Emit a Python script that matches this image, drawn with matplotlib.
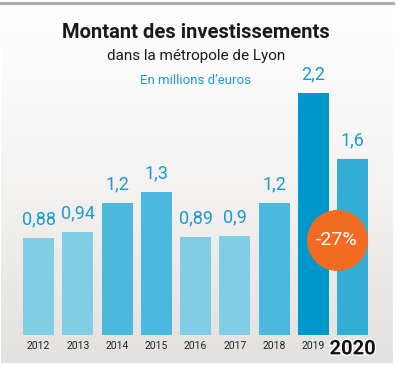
import matplotlib.pyplot as plt
import matplotlib.patheffects as pe
import numpy as np

years = ['2012', '2013', '2014', '2015', '2016', '2017', '2018', '2019', '2020']
values = [0.88, 0.94, 1.2, 1.3, 0.89, 0.9, 1.2, 2.2, 1.6]
labels = ['0,88', '0,94', '1,2', '1,3', '0,89', '0,9', '1,2', '2,2', '1,6']
bar_colors = ['#80cde6', '#80cde6', '#4bb9dd', '#4bb9dd', '#80cde6',
              '#80cde6', '#4bb9dd', '#0098cb', '#33acd6']
change_label = '-27%'

W, H = 397, 368
fig = plt.figure(figsize=(W / 100, H / 100), dpi=100)
fig.patch.set_facecolor('white')

# background panel with soft vertical gradient
bg = fig.add_axes([1 / W, (H - 363) / H, 392 / W, 359 / H])
grad = np.linspace(0, 1, 256).reshape(-1, 1)
bg.imshow(grad, aspect='auto', cmap=plt.matplotlib.colors.LinearSegmentedColormap.from_list(
    'bgc', ['#ffffff', '#f4f3f2', '#e3e1df']), extent=[0, 1, 0, 1], origin='upper')
bg.set_axis_off()

# top grey rule
fig.add_artist(plt.Line2D([1 / W, 393 / W], [(H - 3) / H] * 2, color='#b3aca5', lw=2.2))

fig.text(196 / W, 1 - 33 / H, 'Montant des investissements', ha='center', va='center',
         fontsize=14.5, fontweight='bold', family='Roboto', color='#1a1a1a')
fig.text(196 / W, 1 - 56 / H, 'dans la métropole de Lyon', ha='center', va='center',
         fontsize=11, family='Roboto', color='#1a1a1a')
fig.text(195 / W, 1 - 80 / H, 'En millions d\u2019euros', ha='center', va='center',
         fontsize=9.5, family='Roboto', color='#1a9ad0')

ax = fig.add_axes([19 / W, 33 / H, 353.25 / W, 319 / H])
ax.patch.set_alpha(0)
x = np.arange(len(years))
ax.bar(x, values, width=0.79, color=bar_colors, zorder=2)
ax.set_xlim(-0.5, len(years) - 0.5)
ax.set_ylim(0, 2.9)
ax.set_axis_off()

for xi, v, lab in zip(x, values, labels):
    ax.annotate(lab, (xi, v), xytext=(0, 7), textcoords='offset points',
                ha='center', va='bottom', fontsize=13, family='Roboto', color='#1a9ad0')

for xi, yr in zip(x[:-1], years[:-1]):
    ax.annotate(yr, (xi, 0), xytext=(0, -8), textcoords='offset points',
                ha='center', va='center', fontsize=7.5, family='Roboto', color='#222222')
ax.annotate(years[-1], (x[-1], 0), xytext=(0, -10), textcoords='offset points',
            ha='center', va='center', fontsize=14.5, fontweight='bold', family='Roboto',
            color='#111111', path_effects=[pe.withStroke(linewidth=2, foreground='white')])

# orange badge between 2019 and 2020
ax.scatter([7.6], [0.86], s=1930, color='#f26b21', zorder=3, linewidths=0)
ax.text(7.6, 0.86, change_label, ha='center', va='center', fontsize=14,
        family='Roboto', color='white', zorder=4)

fig.savefig('out.png', dpi=100)
